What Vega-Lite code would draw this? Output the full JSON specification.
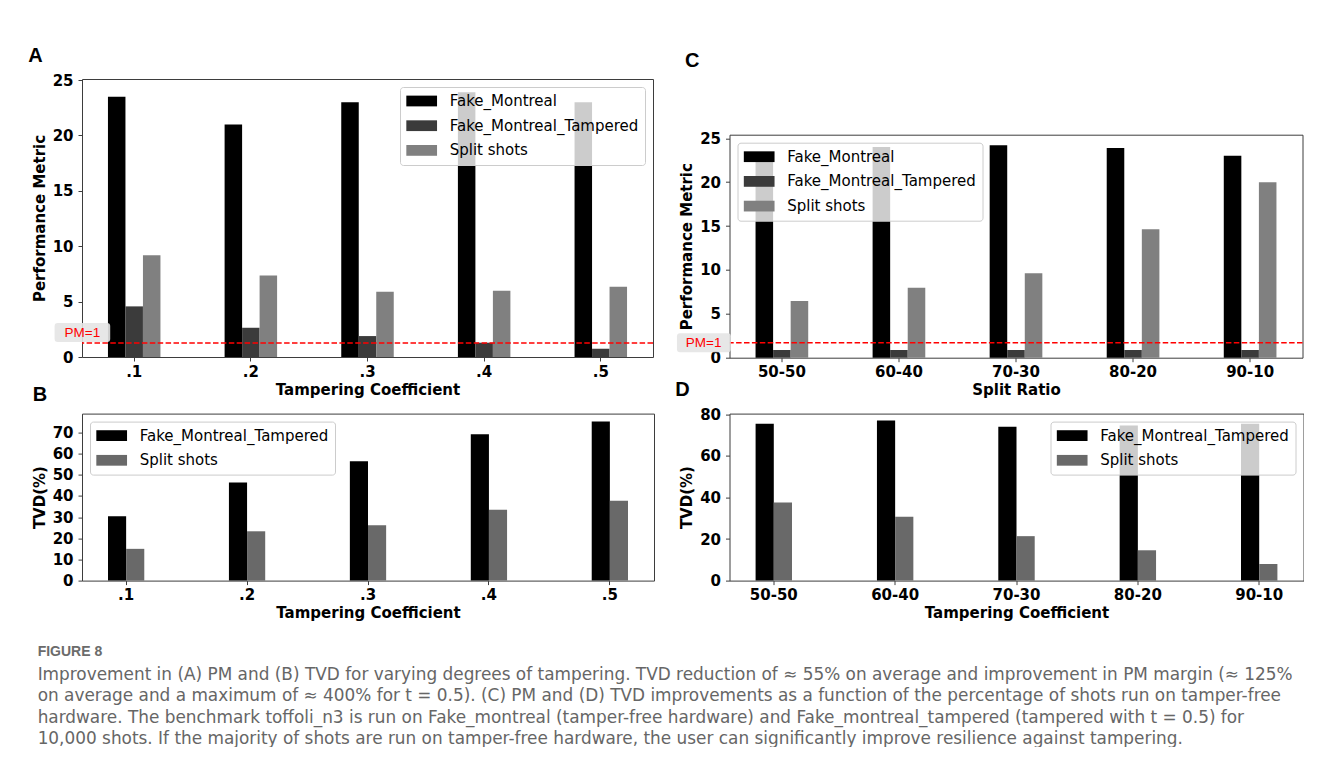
{
  "$schema": "https://vega.github.io/schema/vega-lite/v6.json",
  "background": "white",
  "padding": {"left": 27, "top": 45, "right": 0, "bottom": 0},
  "datasets": {
    "pmA": [
      {"coef": ".1", "series": "Fake_Montreal", "value": 23.5},
      {"coef": ".1", "series": "Fake_Montreal_Tampered", "value": 4.57},
      {"coef": ".1", "series": "Split shots", "value": 9.19},
      {"coef": ".2", "series": "Fake_Montreal", "value": 21.0},
      {"coef": ".2", "series": "Fake_Montreal_Tampered", "value": 2.64},
      {"coef": ".2", "series": "Split shots", "value": 7.36},
      {"coef": ".3", "series": "Fake_Montreal", "value": 23.0},
      {"coef": ".3", "series": "Fake_Montreal_Tampered", "value": 1.89},
      {"coef": ".3", "series": "Split shots", "value": 5.89},
      {"coef": ".4", "series": "Fake_Montreal", "value": 23.9},
      {"coef": ".4", "series": "Fake_Montreal_Tampered", "value": 1.29},
      {"coef": ".4", "series": "Split shots", "value": 5.98},
      {"coef": ".5", "series": "Fake_Montreal", "value": 23.0},
      {"coef": ".5", "series": "Fake_Montreal_Tampered", "value": 0.75},
      {"coef": ".5", "series": "Split shots", "value": 6.34}
    ],
    "pmC": [
      {"ratio": "50-50", "series": "Fake_Montreal", "value": 22.5},
      {"ratio": "50-50", "series": "Fake_Montreal_Tampered", "value": 0.88},
      {"ratio": "50-50", "series": "Split shots", "value": 6.46},
      {"ratio": "60-40", "series": "Fake_Montreal", "value": 24.0},
      {"ratio": "60-40", "series": "Fake_Montreal_Tampered", "value": 0.88},
      {"ratio": "60-40", "series": "Split shots", "value": 7.98},
      {"ratio": "70-30", "series": "Fake_Montreal", "value": 24.2},
      {"ratio": "70-30", "series": "Fake_Montreal_Tampered", "value": 0.88},
      {"ratio": "70-30", "series": "Split shots", "value": 9.61},
      {"ratio": "80-20", "series": "Fake_Montreal", "value": 23.9},
      {"ratio": "80-20", "series": "Fake_Montreal_Tampered", "value": 0.88},
      {"ratio": "80-20", "series": "Split shots", "value": 14.63},
      {"ratio": "90-10", "series": "Fake_Montreal", "value": 23.0},
      {"ratio": "90-10", "series": "Fake_Montreal_Tampered", "value": 0.88},
      {"ratio": "90-10", "series": "Split shots", "value": 19.98}
    ],
    "tvdB": [
      {"coef": ".1", "series": "Fake_Montreal_Tampered", "value": 30.4},
      {"coef": ".1", "series": "Split shots", "value": 15.0},
      {"coef": ".2", "series": "Fake_Montreal_Tampered", "value": 46.35},
      {"coef": ".2", "series": "Split shots", "value": 23.3},
      {"coef": ".3", "series": "Fake_Montreal_Tampered", "value": 56.4},
      {"coef": ".3", "series": "Split shots", "value": 26.2},
      {"coef": ".4", "series": "Fake_Montreal_Tampered", "value": 69.1},
      {"coef": ".4", "series": "Split shots", "value": 33.5},
      {"coef": ".5", "series": "Fake_Montreal_Tampered", "value": 75.2},
      {"coef": ".5", "series": "Split shots", "value": 37.7}
    ],
    "tvdD": [
      {"ratio": "50-50", "series": "Fake_Montreal_Tampered", "value": 75.5},
      {"ratio": "50-50", "series": "Split shots", "value": 37.6},
      {"ratio": "60-40", "series": "Fake_Montreal_Tampered", "value": 77.1},
      {"ratio": "60-40", "series": "Split shots", "value": 30.7},
      {"ratio": "70-30", "series": "Fake_Montreal_Tampered", "value": 74.1},
      {"ratio": "70-30", "series": "Split shots", "value": 21.4},
      {"ratio": "80-20", "series": "Fake_Montreal_Tampered", "value": 74.7},
      {"ratio": "80-20", "series": "Split shots", "value": 14.6},
      {"ratio": "90-10", "series": "Fake_Montreal_Tampered", "value": 75.5},
      {"ratio": "90-10", "series": "Split shots", "value": 8.0}
    ],
    "lineA": [{"pm": 1.26, "label": "PM=1"}],
    "lineC": [{"pm": 1.7, "label": "PM=1"}],
    "none": []
  },
  "title": {
    "text": "FIGURE 8",
    "subtitle": [
      "Improvement in (A) PM and (B) TVD for varying degrees of tampering. TVD reduction of ≈ 55% on average and improvement in PM margin (≈ 125%",
      "on average and a maximum of ≈ 400% for t = 0.5). (C) PM and (D) TVD improvements as a function of the percentage of shots run on tamper-free",
      "hardware. The benchmark toffoli_n3 is run on Fake_montreal (tamper-free hardware) and Fake_montreal_tampered (tampered with t = 0.5) for",
      "10,000 shots. If the majority of shots are run on tamper-free hardware, the user can significantly improve resilience against tampering."
    ],
    "orient": "bottom",
    "anchor": "start",
    "frame": "bounds",
    "offset": 24,
    "dx": 10,
    "baseline": "top",
    "font": "Liberation Sans",
    "fontSize": 14,
    "fontWeight": "bold",
    "color": "#6b6b6b",
    "subtitleFont": "DejaVu Sans",
    "subtitleFontSize": 16.9,
    "subtitleFontWeight": "normal",
    "subtitleColor": "#666666",
    "subtitleLineHeight": 21.3,
    "subtitlePadding": 8
  },
  "spacing": 19.5,
  "resolve": {"scale": {"color": "independent", "xOffset": "independent"}, "legend": {"color": "independent"}},
  "hconcat": [
    {
      "spacing": -14.4,
      "resolve": {"scale": {"color": "independent", "xOffset": "independent"}, "legend": {"color": "independent"}},
      "vconcat": [
        {
          "title": {"text": "A", "offset": 7, "dx": -4},
          "width": 571,
          "height": 278,
          "layer": [
            {
              "data": {"name": "pmA"},
              "mark": {"type": "bar"},
              "encoding": {
                "x": {"field": "coef", "type": "nominal", "scale": {"paddingInner": 0.55, "paddingOuter": 0.2225}, "axis": {"title": "Tampering Coefficient"}},
                "xOffset": {"field": "series", "type": "nominal", "scale": {"domain": ["Fake_Montreal", "Fake_Montreal_Tampered", "Split shots"], "paddingInner": 0, "paddingOuter": 0}},
                "y": {"field": "value", "type": "quantitative", "scale": {"domain": [0, 25.1], "nice": false}, "axis": {"title": "Performance Metric", "values": [0, 5, 10, 15, 20, 25]}},
                "color": {"field": "series", "type": "nominal", "scale": {"domain": ["Fake_Montreal", "Fake_Montreal_Tampered", "Split shots"], "range": ["#000000", "#3b3b3b", "#808080"]}, "legend": {"orient": "top-right"}}
              }
            },
            {
              "data": {"name": "lineA"},
              "mark": {"type": "rule", "color": "#ff0000", "strokeWidth": 1.5, "strokeDash": [5.5, 2.4]},
              "encoding": {"y": {"field": "pm", "type": "quantitative"}}
            },
            {
              "data": {"name": "lineA"},
              "mark": {"type": "point", "filled": true, "shape": "M-7.66,-2H-2.7Q-2.4,-2,-2.4,-1.7V-0.4Q-2.4,-0.1,-2.7,-0.1H-7.66Q-7.96,-0.1,-7.96,-0.4V-1.7Q-7.96,-2,-7.66,-2Z", "size": 400, "color": "#e4e4e4", "opacity": 0.9, "strokeWidth": 0},
              "encoding": {"x": {"datum": ".1"}, "y": {"field": "pm", "type": "quantitative"}}
            },
            {
              "data": {"name": "lineA"},
              "mark": {"type": "text", "color": "#ff0000", "font": "Liberation Sans", "fontSize": 13.5, "align": "center", "baseline": "middle", "dx": -51.8, "dy": -10.5},
              "encoding": {"x": {"datum": ".1"}, "y": {"field": "pm", "type": "quantitative"}, "text": {"field": "label"}}
            }
          ]
        },
        {
          "title": {"text": "B", "offset": 9, "dx": 0.5},
          "width": 572,
          "height": 167,
          "data": {"name": "tvdB"},
          "mark": {"type": "bar"},
          "encoding": {
            "x": {"field": "coef", "type": "nominal", "scale": {"paddingInner": 0.7, "paddingOuter": 0.215}, "axis": {"title": "Tampering Coefficient"}},
            "xOffset": {"field": "series", "type": "nominal", "scale": {"domain": ["Fake_Montreal_Tampered", "Split shots"], "paddingInner": 0, "paddingOuter": 0}},
            "y": {"field": "value", "type": "quantitative", "scale": {"domain": [0, 78.9], "nice": false}, "axis": {"title": "TVD(%)", "values": [0, 10, 20, 30, 40, 50, 60, 70]}},
            "color": {"field": "series", "type": "nominal", "scale": {"domain": ["Fake_Montreal_Tampered", "Split shots"], "range": ["#000000", "#696969"]}, "legend": {"orient": "top-left"}}
          }
        }
      ]
    },
    {
      "spacing": -20.4,
      "resolve": {"scale": {"color": "independent", "xOffset": "independent"}, "legend": {"color": "independent"}},
      "vconcat": [
        {
          "spacing": -29.3,
          "resolve": {"scale": {"color": "independent", "xOffset": "independent"}, "legend": {"color": "independent"}},
          "vconcat": [
            {
              "width": 10,
              "height": 1,
              "view": {"stroke": null},
              "data": {"name": "none"},
              "mark": {"type": "rule"},
              "encoding": {}
            },
            {
              "title": {"text": "C", "offset": 60, "dx": 8},
              "width": 573,
              "height": 223,
              "layer": [
                {
                  "data": {"name": "pmC"},
                  "mark": {"type": "bar"},
                  "encoding": {
                    "x": {"field": "ratio", "type": "nominal", "scale": {"paddingInner": 0.55, "paddingOuter": 0.2225}, "axis": {"title": "Split Ratio"}},
                    "xOffset": {"field": "series", "type": "nominal", "scale": {"domain": ["Fake_Montreal", "Fake_Montreal_Tampered", "Split shots"], "paddingInner": 0, "paddingOuter": 0}},
                    "y": {"field": "value", "type": "quantitative", "scale": {"domain": [0, 25.41], "nice": false}, "axis": {"title": "Performance Metric", "values": [0, 5, 10, 15, 20, 25]}},
                    "color": {"field": "series", "type": "nominal", "scale": {"domain": ["Fake_Montreal", "Fake_Montreal_Tampered", "Split shots"], "range": ["#000000", "#3b3b3b", "#808080"]}, "legend": {"orient": "top-left"}}
                  }
                },
                {
                  "data": {"name": "lineC"},
                  "mark": {"type": "rule", "color": "#ff0000", "strokeWidth": 1.5, "strokeDash": [5.5, 2.4]},
                  "encoding": {"y": {"field": "pm", "type": "quantitative"}}
                },
                {
                  "data": {"name": "lineC"},
                  "mark": {"type": "point", "filled": true, "shape": "M-10.19,-0.95H-5.41Q-5.11,-0.95,-5.11,-0.65V0.65Q-5.11,0.95,-5.41,0.95H-10.19Q-10.49,0.95,-10.49,0.65V-0.65Q-10.49,-0.95,-10.19,-0.95Z", "size": 400, "color": "#e4e4e4", "opacity": 0.9, "strokeWidth": 0},
                  "encoding": {"x": {"datum": "50-50"}, "y": {"field": "pm", "type": "quantitative"}}
                },
                {
                  "data": {"name": "lineC"},
                  "mark": {"type": "text", "color": "#ff0000", "font": "Liberation Sans", "fontSize": 13.5, "align": "center", "baseline": "middle", "dx": -78.3, "dy": 0},
                  "encoding": {"x": {"datum": "50-50"}, "y": {"field": "pm", "type": "quantitative"}, "text": {"field": "label"}}
                }
              ]
            }
          ]
        },
        {
          "title": {"text": "D", "offset": 7.5, "dx": -4.5},
          "width": 574,
          "height": 167,
          "data": {"name": "tvdD"},
          "mark": {"type": "bar"},
          "encoding": {
            "x": {"field": "ratio", "type": "nominal", "scale": {"paddingInner": 0.7, "paddingOuter": 0.215}, "axis": {"title": "Tampering Coefficient"}},
            "xOffset": {"field": "series", "type": "nominal", "scale": {"domain": ["Fake_Montreal_Tampered", "Split shots"], "paddingInner": 0, "paddingOuter": 0}},
            "y": {"field": "value", "type": "quantitative", "scale": {"domain": [0, 80.4], "nice": false}, "axis": {"title": "TVD(%)", "values": [0, 20, 40, 60, 80]}},
            "color": {"field": "series", "type": "nominal", "scale": {"domain": ["Fake_Montreal_Tampered", "Split shots"], "range": ["#000000", "#696969"]}, "legend": {"orient": "top-right"}}
          }
        }
      ]
    }
  ],
  "config": {
    "font": "DejaVu Sans",
    "view": {"stroke": "#3d3d3d", "strokeWidth": 1},
    "axis": {
      "domain": false,
      "grid": false,
      "ticks": true,
      "tickColor": "#3d3d3d",
      "tickSize": 4,
      "labelFont": "DejaVu Sans",
      "labelFontSize": 15,
      "labelFontWeight": "bold",
      "labelColor": "#000000",
      "titleFont": "DejaVu Sans",
      "titleFontSize": 15,
      "titleFontWeight": "bold",
      "titleColor": "#000000"
    },
    "axisX": {"labelAngle": 0, "labelPadding": 3, "titlePadding": 3},
    "axisY": {"labelPadding": 5, "titlePadding": 5},
    "legend": {
      "title": null,
      "labelFont": "DejaVu Sans",
      "labelFontSize": 15,
      "labelColor": "#000000",
      "labelLimit": 400,
      "labelOffset": 27.7,
      "symbolType": "M-1,-0.7H3V0.7H-1Z",
      "symbolSize": 236,
      "symbolStrokeWidth": 0,
      "symbolOpacity": 1,
      "padding": 6,
      "rowPadding": 8.7,
      "fillColor": "rgba(255,255,255,0.8)",
      "strokeColor": "#cccccc",
      "cornerRadius": 3,
      "offset": 8,
      "zindex": 1
    },
    "title": {"font": "Liberation Sans", "fontSize": 20, "fontWeight": "bold", "anchor": "start", "frame": "bounds", "color": "#000000"}
  }
}
